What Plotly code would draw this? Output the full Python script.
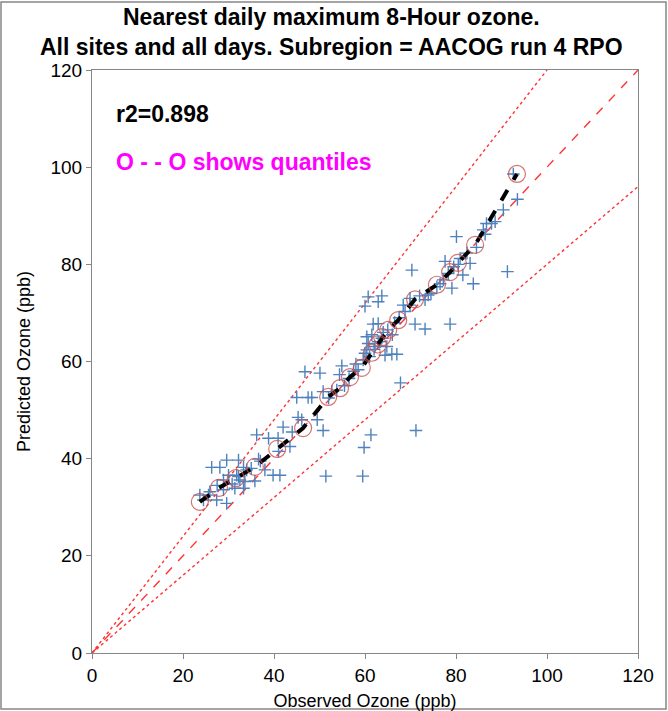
import plotly.graph_objects as go

# Observed / predicted pairs (ppb)
obs = [23.7, 24.5, 25.6, 25.9, 26.3, 27.4, 28.1, 28.9, 28.9, 29.6, 29.6, 30.0, 31.4, 31.8, 32.2, 32.2,
       32.5, 33.3, 33.3, 33.6, 34.0, 35.8, 36.2, 36.6, 38.0, 38.8, 39.8, 40.9, 41.3, 42.0, 27.5, 30.8,
       35.0, 37.0, 41.0, 43.5,
       45.0, 45.3, 46.1, 46.8, 47.5, 48.3, 50.1, 50.8, 50.8, 51.4, 52.7, 53.8, 54.4, 54.9, 56.5, 57.5,
       58.5, 59.5, 59.6, 59.8, 60.0, 60.4, 60.7, 61.3, 62.2, 63.3, 64.4, 61.5, 60.4, 61.8, 62.9, 60.7,
       63.7, 62.9, 60.0, 64.8, 65.9, 67.0, 66.0, 63.7, 62.9, 68.4, 68.8, 71.0, 73.2, 67.8, 71.2, 65.0,
       66.5, 67.5, 64.0, 62.0, 61.0, 58.0, 55.5, 52.0, 49.5, 44.0,
       69.9, 69.9, 70.3, 73.2, 73.9, 75.8, 77.2, 78.3, 79.1, 77.6, 78.7, 80.1, 80.9, 81.5, 82.4, 83.1,
       83.8, 86.0, 86.4, 86.7, 87.8, 88.6, 90.4, 91.3, 93.5, 92.6, 72.0, 74.5, 76.5, 79.5, 84.5, 80.5]
pred = [32.5, 31.5, 32.5, 33.2, 38.2, 31.5, 38.2, 33.6, 35.6, 30.8, 39.7, 36.6, 33.9, 36.6, 39.7, 36.3,
        35.6, 33.9, 38.2, 35.3, 37.7, 35.4, 44.9, 39.9, 37.7, 44.2, 36.6, 44.2, 36.6, 46.5, 34.5, 34.8,
        38.0, 39.5, 41.5, 42.5,
        52.6, 48.5, 48.0, 57.9, 52.6, 52.6, 57.6, 53.8, 45.8, 36.4, 53.8, 54.1, 57.3, 59.1, 56.5, 58.0,
        58.3, 36.4, 60.3, 42.3, 61.7, 62.4, 63.7, 44.9, 63.1, 64.1, 61.3, 65.5, 65.1, 67.7, 67.8, 73.3,
        73.5, 72.3, 71.4, 63.1, 61.5, 61.5, 65.5, 64.8, 64.1, 71.6, 70.3, 67.7, 66.7, 55.6, 45.8, 66.5,
        68.0, 69.0, 66.0, 62.5, 61.0, 59.5, 55.0, 52.5, 48.0, 45.5,
        73.0, 71.6, 78.8, 72.7, 73.7, 75.4, 76.8, 78.1, 75.1, 80.6, 67.7, 85.7, 81.2, 77.8, 82.3, 80.2,
        76.0, 87.1, 86.2, 88.4, 88.4, 88.8, 91.2, 78.5, 93.4, 98.6, 73.5, 74.0, 76.0, 79.5, 83.5, 80.0]

# Quantiles (5% steps)
q_obs = [23.7, 27.9, 31.6, 35.8, 40.7, 46.4, 51.9, 54.5, 56.7, 59.3, 61.5, 62.8, 63.8, 65.1, 67.3,
         71.0, 75.8, 78.7, 80.4, 84.2, 93.4]
q_pred = [31.1, 34.0, 36.0, 38.3, 42.0, 46.3, 52.7, 54.5, 56.8, 58.7, 61.8, 63.5, 65.0, 66.5, 68.5,
          72.8, 75.8, 78.4, 80.3, 84.0, 98.6]

ref_slopes = [1.0, 1.2, 0.8]
axis_ticks = [0, 20, 40, 60, 80, 100, 120]

title_lines = ["Nearest daily maximum 8-Hour ozone.",
               "All sites and all days. Subregion = AACOG run 4 RPO"]
r2_text = "r2=0.898"
quant_text = "O - - O shows quantiles"

FONT = "Liberation Sans, Arial"

fig = go.Figure()

# reference lines (1:1 and +/-20 %)
for s in ref_slopes:
    xe = min(120, 120 / s)
    fig.add_trace(go.Scatter(
        x=[0, xe], y=[0, s * xe], mode="lines",
        line=dict(color="#FF3333", width=1.4, dash="dash" if s == 1 else "dot"),
        hoverinfo="skip", showlegend=False))

fig.add_trace(go.Scatter(
    x=obs, y=pred, mode="markers",
    marker=dict(symbol="cross-thin", size=9, line=dict(color="#4F81BD", width=1.4)),
    showlegend=False))

fig.add_trace(go.Scatter(
    x=q_obs, y=q_pred, mode="lines",
    line=dict(color="black", width=4, dash="dash"),
    showlegend=False))

fig.add_trace(go.Scatter(
    x=q_obs, y=q_pred, mode="markers",
    marker=dict(symbol="circle-open", size=17, color="rgba(200,80,80,0.8)", line=dict(width=1.2)),
    showlegend=False))

axis_common = dict(range=[0, 120], tickvals=axis_ticks, showgrid=False, zeroline=False,
                   showline=True, linecolor="#868686", linewidth=1, mirror=True,
                   ticks="outside", ticklen=5, tickcolor="#868686", automargin=False,
                   tickfont=dict(family=FONT, size=19, color="black"))

fig.update_xaxes(**axis_common,
                 title=dict(text="Observed Ozone (ppb)", standoff=10,
                            font=dict(family=FONT, size=18, color="black")))
fig.update_yaxes(**axis_common,
                 title=dict(text="Predicted Ozone (ppb)", standoff=15,
                            font=dict(family=FONT, size=18, color="black")))

fig.update_layout(
    width=668, height=711,
    margin=dict(l=92, r=30, t=70, b=58, autoexpand=False),
    plot_bgcolor="white", paper_bgcolor="white",
    font=dict(family=FONT),
)

# title as two text lines
for line, py in zip(title_lines, [17, 47]):
    fig.add_annotation(xref="paper", yref="paper", x=(331 - 92) / 546, y=(653 - py) / 583,
                       xanchor="center", yanchor="middle", text=line, showarrow=False,
                       font=dict(family=FONT, size=23, color="black", weight="bold"))

fig.add_annotation(xref="paper", yref="paper", x=(114 - 92) / 546, y=(653 - 114) / 583,
                   xanchor="left", yanchor="middle", text=r2_text, showarrow=False,
                   font=dict(family=FONT, size=23, color="black", weight="bold"))
fig.add_annotation(xref="paper", yref="paper", x=(114 - 92) / 546, y=(653 - 162) / 583,
                   xanchor="left", yanchor="middle", text=quant_text, showarrow=False,
                   font=dict(family=FONT, size=23, color="#FF00FF", weight="bold"))

# outer chart border
fig.add_shape(type="rect", xref="paper", yref="paper",
              x0=(1 - 92) / 546, x1=(666 - 92) / 546, y0=(653 - 709) / 583, y1=(653 - 2) / 583,
              line=dict(color="#868686", width=1.5), fillcolor="rgba(0,0,0,0)", layer="above")

fig.write_html("out.html", config={"displayModeBar": False},
               post_script="document.body.style.margin='0';document.body.style.overflow='hidden';")
